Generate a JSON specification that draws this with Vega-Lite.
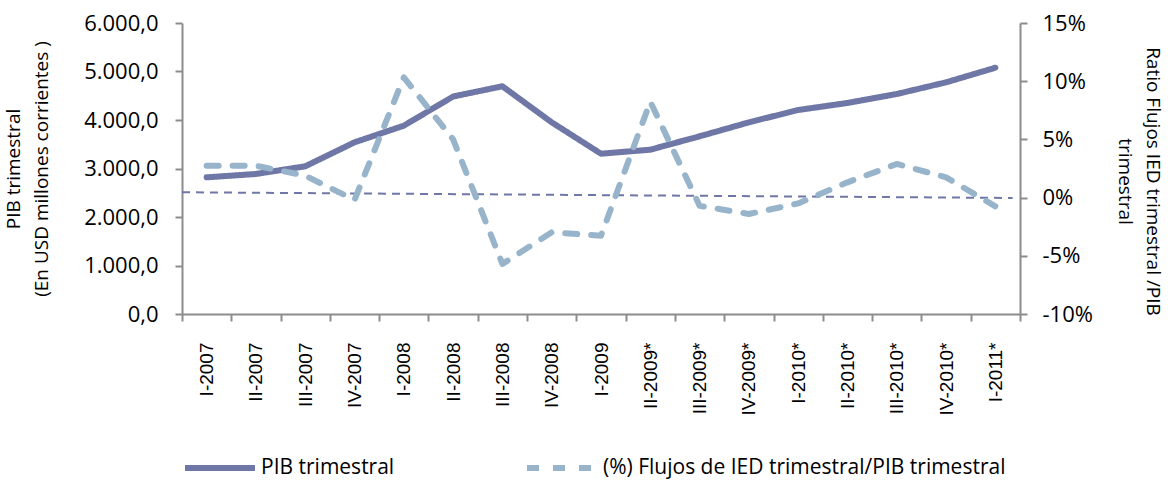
{
  "$schema": "https://vega.github.io/schema/vega-lite/v6.json",
  "width": 838,
  "height": 291,
  "padding": {"left": 4, "top": 12, "right": 4, "bottom": 4},
  "background": "white",
  "config": {
    "view": {"stroke": null},
    "font": "Open Sans",
    "axis": {
      "domainColor": "#8c8c8c", "tickColor": "#8c8c8c", "domainWidth": 2, "tickWidth": 2,
      "grid": false, "labelColor": "#000000", "titleColor": "#000000", "titleFontWeight": "normal"
    }
  },
  "datasets": {
    "series": [
      {"q": "I-2007", "idx": 0, "serie": "PIB trimestral", "valor": 2818},
      {"q": "II-2007", "idx": 1, "serie": "PIB trimestral", "valor": 2887},
      {"q": "III-2007", "idx": 2, "serie": "PIB trimestral", "valor": 3045},
      {"q": "IV-2007", "idx": 3, "serie": "PIB trimestral", "valor": 3540},
      {"q": "I-2008", "idx": 4, "serie": "PIB trimestral", "valor": 3883},
      {"q": "II-2008", "idx": 5, "serie": "PIB trimestral", "valor": 4484},
      {"q": "III-2008", "idx": 6, "serie": "PIB trimestral", "valor": 4695},
      {"q": "IV-2008", "idx": 7, "serie": "PIB trimestral", "valor": 3952},
      {"q": "I-2009", "idx": 8, "serie": "PIB trimestral", "valor": 3305},
      {"q": "II-2009*", "idx": 9, "serie": "PIB trimestral", "valor": 3388},
      {"q": "III-2009*", "idx": 10, "serie": "PIB trimestral", "valor": 3664},
      {"q": "IV-2009*", "idx": 11, "serie": "PIB trimestral", "valor": 3952},
      {"q": "I-2010*", "idx": 12, "serie": "PIB trimestral", "valor": 4206},
      {"q": "II-2010*", "idx": 13, "serie": "PIB trimestral", "valor": 4351},
      {"q": "III-2010*", "idx": 14, "serie": "PIB trimestral", "valor": 4536},
      {"q": "IV-2010*", "idx": 15, "serie": "PIB trimestral", "valor": 4777},
      {"q": "I-2011*", "idx": 16, "serie": "PIB trimestral", "valor": 5078},
      {"q": "I-2007", "idx": 0, "serie": "(%) Flujos de IED trimestral/PIB trimestral", "valor": 2.74},
      {"q": "II-2007", "idx": 1, "serie": "(%) Flujos de IED trimestral/PIB trimestral", "valor": 2.74},
      {"q": "III-2007", "idx": 2, "serie": "(%) Flujos de IED trimestral/PIB trimestral", "valor": 1.88},
      {"q": "IV-2007", "idx": 3, "serie": "(%) Flujos de IED trimestral/PIB trimestral", "valor": -0.2},
      {"q": "I-2008", "idx": 4, "serie": "(%) Flujos de IED trimestral/PIB trimestral", "valor": 10.33},
      {"q": "II-2008", "idx": 5, "serie": "(%) Flujos de IED trimestral/PIB trimestral", "valor": 5.0},
      {"q": "III-2008", "idx": 6, "serie": "(%) Flujos de IED trimestral/PIB trimestral", "valor": -5.7},
      {"q": "IV-2008", "idx": 7, "serie": "(%) Flujos de IED trimestral/PIB trimestral", "valor": -2.98},
      {"q": "I-2009", "idx": 8, "serie": "(%) Flujos de IED trimestral/PIB trimestral", "valor": -3.27},
      {"q": "II-2009*", "idx": 9, "serie": "(%) Flujos de IED trimestral/PIB trimestral", "valor": 8.24},
      {"q": "III-2009*", "idx": 10, "serie": "(%) Flujos de IED trimestral/PIB trimestral", "valor": -0.7},
      {"q": "IV-2009*", "idx": 11, "serie": "(%) Flujos de IED trimestral/PIB trimestral", "valor": -1.41},
      {"q": "I-2010*", "idx": 12, "serie": "(%) Flujos de IED trimestral/PIB trimestral", "valor": -0.5},
      {"q": "II-2010*", "idx": 13, "serie": "(%) Flujos de IED trimestral/PIB trimestral", "valor": 1.31},
      {"q": "III-2010*", "idx": 14, "serie": "(%) Flujos de IED trimestral/PIB trimestral", "valor": 2.89},
      {"q": "IV-2010*", "idx": 15, "serie": "(%) Flujos de IED trimestral/PIB trimestral", "valor": 1.74},
      {"q": "I-2011*", "idx": 16, "serie": "(%) Flujos de IED trimestral/PIB trimestral", "valor": -0.75}
    ],
    "trend": [
      {"idx": -0.5, "valor": 0.46},
      {"idx": 16.35, "valor": -0.03}
    ]
  },
  "encoding": {
    "x": {
      "field": "idx", "type": "quantitative",
      "scale": {"domain": [-0.5, 16.5], "nice": false, "zero": false},
      "axis": {
        "title": null,
        "values": [-0.5, 0, 0.5, 1, 1.5, 2, 2.5, 3, 3.5, 4, 4.5, 5, 5.5, 6, 6.5, 7, 7.5, 8, 8.5, 9, 9.5, 10, 10.5, 11, 11.5, 12, 12.5, 13, 13.5, 14, 14.5, 15, 15.5, 16, 16.5],
        "labelExpr": "datum.value % 1 === 0 ? ['I-2007','II-2007','III-2007','IV-2007','I-2008','II-2008','III-2008','IV-2008','I-2009','II-2009*','III-2009*','IV-2009*','I-2010*','II-2010*','III-2010*','IV-2010*','I-2011*'][datum.value] : ''",
        "labelAngle": -90, "labelAlign": "right", "labelBaseline": "middle",
        "labelFont": "Liberation Sans", "labelFontSize": 19, "labelPadding": 21,
        "labelOverlap": false, "labelFlush": false, "labelBound": false,
        "tickSize": 7,
        "tickOpacity": {"condition": {"test": "datum.value % 1 !== 0", "value": 1}, "value": 0}
      }
    }
  },
  "layer": [
    {
      "data": {"name": "series"},
      "transform": [{"filter": "datum.serie === 'PIB trimestral'"}],
      "mark": {"type": "line", "strokeWidth": 6, "strokeJoin": "round", "strokeCap": "round"},
      "encoding": {
        "y": {
          "field": "valor", "type": "quantitative",
          "scale": {"domain": [0, 6000], "nice": false},
          "axis": {
            "orient": "left",
            "values": [0, 1000, 2000, 3000, 4000, 5000, 6000],
            "labelExpr": "replace(replace(replace(format(datum.value, ',.1f'), '.', '#'), ',', '.'), '#', ',')",
            "labelFontSize": 22, "labelPadding": 17, "tickSize": 7,
            "title": ["PIB trimestral", "(En USD millones corrientes )"],
            "titleFontSize": 19, "titleLineHeight": 28, "titlePadding": 32
          }
        },
        "color": {
          "field": "serie", "type": "nominal",
          "scale": {"domain": ["PIB trimestral", "(%) Flujos de IED trimestral/PIB trimestral"], "range": ["#6E77A6", "#98B4CB"]},
          "legend": {"orient": "bottom", "direction": "horizontal", "title": null, "symbolType": "stroke", "symbolSize": 4900, "symbolStrokeWidth": 6, "labelFontSize": 21, "labelLimit": 600, "labelOffset": 3, "columnPadding": 120, "offset": 15}
        },
        "strokeDash": {
          "field": "serie", "type": "nominal",
          "scale": {"domain": ["PIB trimestral", "(%) Flujos de IED trimestral/PIB trimestral"], "range": [[1, 0], [12, 14]]},
          "legend": {"orient": "bottom", "direction": "horizontal", "title": null, "symbolType": "stroke", "symbolSize": 4900, "symbolStrokeWidth": 6, "labelFontSize": 21, "labelLimit": 600, "labelOffset": 3, "columnPadding": 120, "offset": 15}
        }
      }
    },
    {
      "layer": [
        {
          "data": {"name": "trend"},
          "mark": {"type": "line", "stroke": "#6E77A6", "strokeWidth": 2, "strokeDash": [8, 6]},
          "encoding": {
            "y": {
              "field": "valor", "type": "quantitative",
              "scale": {"domain": [-10, 15], "nice": false},
              "axis": {
                "orient": "right",
                "values": [-10, -5, 0, 5, 10, 15],
                "labelExpr": "datum.value + '%'",
                "labelFontSize": 22, "labelPadding": 15, "tickSize": 7,
                "title": ["Ratio Flujos  IED trimestral /PIB", "trimestral"],
                "titleFontSize": 19, "titleLineHeight": 28, "titlePadding": 22, "titleY": 158
              }
            }
          }
        },
        {
          "data": {"name": "series"},
          "transform": [{"filter": "datum.serie !== 'PIB trimestral'"}],
          "mark": {"type": "line", "strokeWidth": 6, "strokeJoin": "round", "strokeCap": "round"},
          "encoding": {
            "y": {"field": "valor", "type": "quantitative"},
            "color": {"field": "serie", "type": "nominal"},
            "strokeDash": {"field": "serie", "type": "nominal"}
          }
        }
      ]
    }
  ],
  "resolve": {"scale": {"y": "independent"}}
}
